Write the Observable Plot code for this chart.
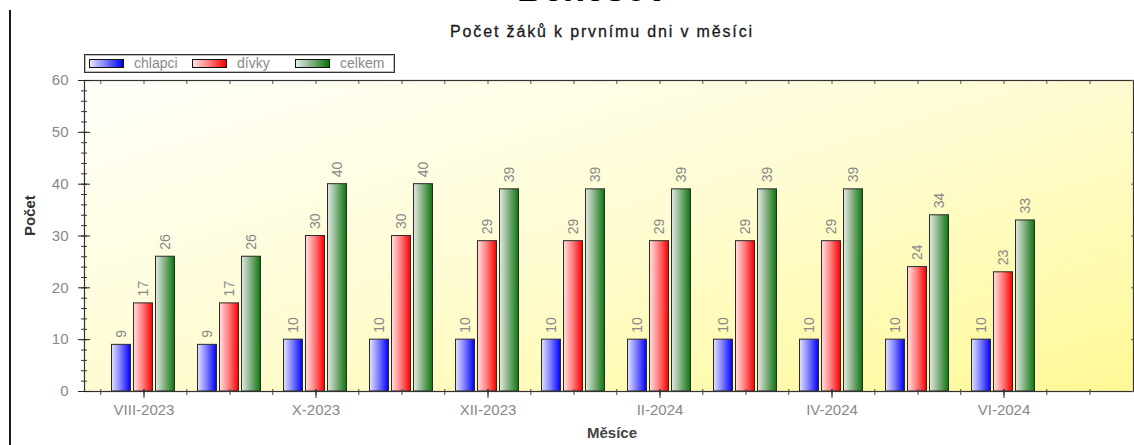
<!DOCTYPE html>
<html>
<head>
<meta charset="utf-8">
<script src="https://cdn.jsdelivr.net/npm/d3@7"></script>
<script src="https://cdn.jsdelivr.net/npm/@observablehq/plot@0.6"></script>
<style>
  html, body { margin: 0; padding: 0; background: #fff; }
  body { font-family: "Liberation Sans", Arial, sans-serif; }
  #wrap { position: relative; width: 1134px; height: 445px; overflow: hidden; }
  #vline { position: absolute; left: 9px; top: 10px; width: 2px; height: 440px; background: #1a1a1a; }
  #header { position: relative; height: 78px; }
  #title { position: absolute; left: 0; width: 1184px; text-align: center; top: -29px; font-size: 36px; line-height: 36px; font-weight: bold; color: #000; }
  #subtitle { position: absolute; left: 0; width: 1204px; text-align: center; top: 23px; font-size: 16px; line-height: 18px; letter-spacing: 1.85px; color: #1a1a1a; -webkit-text-stroke: 0.3px #1a1a1a; }
  #legend { position: absolute; left: 84px; top: 54px; width: 309px; height: 17px; border: 1px solid #333; box-shadow: inset 0 0 0 1px #bbb; background: #fff; }
  .item { position: absolute; top: 0; height: 17px; font-size: 14px; line-height: 16px; color: #888; }
  .sw { position: absolute; top: 4px; width: 33px; height: 7px; border: 1px solid #111; }
  .lab { position: absolute; top: 0; left: 45px; white-space: nowrap; }
  svg { display: block; }
</style>
</head>
<body>
<div id="wrap">
  <div id="vline"></div>
  <div id="header">
    <div id="title">Benešov</div>
    <div id="subtitle">Počet žáků k prvnímu dni v měsíci</div>
    <div id="legend"></div>
  </div>
  <div id="chart"></div>
</div>
<script>
// ---- data ----
const months = ["VIII-2023","IX-2023","X-2023","XI-2023","XII-2023","I-2024","II-2024","III-2024","IV-2024","V-2024","VI-2024","VII-2024"];
const dataMonths = months.slice(0, 11);
const chlapci = [9, 9, 10, 10, 10, 10, 10, 10, 10, 10, 10];
const divky   = [17, 17, 30, 30, 29, 29, 29, 29, 29, 24, 23];
const celkem  = [26, 26, 40, 40, 39, 39, 39, 39, 39, 34, 33];
const seriesNames = ["chlapci", "dívky", "celkem"];
const tickLabels = ["VIII-2023","X-2023","XII-2023","II-2024","IV-2024","VI-2024"];
const yLabels = [0, 10, 20, 30, 40, 50, 60];
const yMinor = d3.range(0, 61, 2);

// ---- styles ----
const grads = {
  chlapci: ["gB", "#e4e4ff", "#7878ff", "#0000f5"],
  "dívky": ["gR", "#ffe2e2", "#ff7a7a", "#f50000"],
  celkem: ["gG", "#e4ece4", "#7fae7f", "#0b750b"]
};
const offsets = { chlapci: -22.5, "dívky": -0.5, celkem: 21.5 };
const seriesValues = { chlapci, "dívky": divky, celkem };

// legend
const legend = document.getElementById("legend");
seriesNames.forEach((s, i) => {
  const it = document.createElement("div");
  it.className = "item";
  it.style.left = (4 + i * 103) + "px";
  const [id, c0, c1, c2] = grads[s];
  it.innerHTML = `<div class="sw" style="background:linear-gradient(to right, ${c0}, ${c1} 50%, ${c2})"></div><span class="lab">${s}</span>`;
  legend.appendChild(it);
});

function rows(s) {
  return dataMonths.map((m, i) => ({ month: m, value: seriesValues[s][i] }));
}

const marks = [
  Plot.frame({ fill: "url(#bgGrad)", stroke: "none" })
];
for (const s of seriesNames) {
  marks.push(Plot.barY(rows(s), {
    x: "month", y: "value", dx: offsets[s],
    fill: `url(#${grads[s][0]})`, stroke: "#2a2a2a", strokeWidth: 1
  }));
  marks.push(Plot.text(rows(s), {
    x: "month", y: "value", dx: offsets[s], dy: -7,
    text: d => String(d.value), rotate: -90, textAnchor: "start",
    fill: "#888", fontSize: 14
  }));
}
marks.push(
  Plot.frame({ stroke: "#333", strokeWidth: 1.2 }),
  // y axis labels
  Plot.axisY(yLabels, { tickSize: 0, tickPadding: 16, fill: "#888", fontSize: 15, label: null }),
  // y minor ticks (crossing the axis)
  Plot.axisY(yMinor, { tickSize: 6, dx: 3, tickFormat: () => "", stroke: "#333", label: null }),
  Plot.axisY(yLabels, { tickSize: 12, dx: 6, tickFormat: () => "", stroke: "#222", label: null }),
  // right side ticks
  Plot.axisY(yLabels, { anchor: "right", tickSize: 3, dx: -3, tickFormat: () => "", stroke: "#555", label: null }),
  // x axis ticks: centers and boundaries
  Plot.axisX(months, { tickSize: 6, dy: -2, tickFormat: () => "", stroke: "#444", label: null }),
  Plot.axisX(months, { tickSize: 6, dy: -2, dx: -43.2, tickFormat: () => "", stroke: "#444", label: null }),
  Plot.axisX(tickLabels, { tickSize: 9, dy: -2, tickFormat: () => "", stroke: "#222", label: null }),
  // top frame ticks
  Plot.axisX(months, { anchor: "top", tickSize: 3, dy: 3, tickFormat: () => "", stroke: "#555", label: null }),
  Plot.axisX(months, { anchor: "top", tickSize: 3, dy: 3, dx: -43.2, tickFormat: () => "", stroke: "#555", label: null }),
  // x labels
  Plot.axisX(tickLabels, { tickSize: 0, tickPadding: 13, fill: "#888", fontSize: 15, label: null }),
  // axis titles
  Plot.text(["Počet"], { frameAnchor: "left", dx: -54, rotate: -90, fontWeight: "bold", fontSize: 15, fill: "#333" }),
  Plot.text(["Měsíce"], { frameAnchor: "bottom", dy: 46, dx: 3, fontWeight: "bold", fontSize: 15, fill: "#444" })
);

const svg = Plot.plot({
  width: 1134,
  height: 367,
  marginTop: 2,
  marginBottom: 54,
  marginLeft: 84,
  marginRight: 1,
  style: { fontFamily: "'Liberation Sans', Arial, sans-serif", background: "transparent", overflow: "visible" },
  x: { type: "band", domain: months, range: [97.8, 1134.6], paddingInner: 0.78, paddingOuter: 0.39, axis: null },
  y: { domain: [0, 60], axis: null },
  marks
});

// gradient definitions
const ns = "http://www.w3.org/2000/svg";
const defs = document.createElementNS(ns, "defs");
let html = `<linearGradient id="bgGrad" x1="0" y1="0" x2="1" y2="1">
  <stop offset="0" stop-color="#fffffa"/><stop offset="0.5" stop-color="#fffcd2"/><stop offset="1" stop-color="#fff996"/></linearGradient>`;
for (const s of seriesNames) {
  const [id, c0, c1, c2] = grads[s];
  html += `<linearGradient id="${id}" x1="0" y1="0" x2="1" y2="0">
    <stop offset="0" stop-color="${c0}"/><stop offset="0.5" stop-color="${c1}"/><stop offset="1" stop-color="${c2}"/></linearGradient>`;
}
defs.innerHTML = html;
svg.insertBefore(defs, svg.firstChild);
document.getElementById("chart").appendChild(svg);
</script>
</body>
</html>
